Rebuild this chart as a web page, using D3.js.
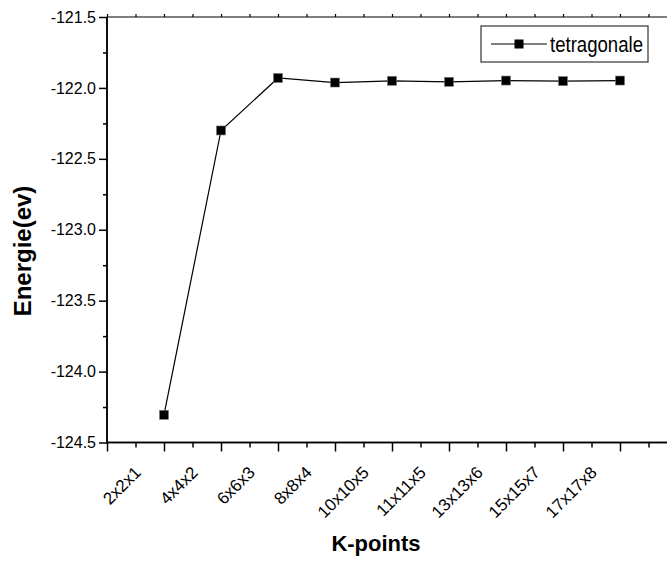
<!DOCTYPE html>
<html>
<head>
<meta charset="utf-8">
<script src="https://cdn.jsdelivr.net/npm/d3@7"></script>
<style>
  body { margin: 0; background: #fff; }
  text { font-family: "Liberation Sans", Arial, sans-serif; fill: #000; }
</style>
</head>
<body>
<div class="chart"></div>
<script>
// k-point grids and total energy (eV)
var kpoints = ["2x2x1", "4x4x2", "6x6x3", "8x8x4", "10x10x5", "11x11x5", "13x13x6", "15x15x7", "17x17x8"];
var energies = [-124.305, -122.30, -121.93, -121.962, -121.95, -121.957, -121.948, -121.952, -121.948];
var yTicks = [-124.5, -124.0, -123.5, -123.0, -122.5, -122.0, -121.5];
var seriesName = "tetragonale";

var board = { width: 667, height: 562, left: 107, top: 17, bottom: 442.5 };

var data = kpoints.map(function(k, i) { return { label: k, idx: i + 1, e: energies[i] }; });

var svg = d3.select(".chart").append("svg")
  .attr("width", board.width)
  .attr("height", board.height);

var x = d3.scaleLinear().domain([0, 10]).range([board.left, board.left + 570]);
var y = d3.scaleLinear().domain([-124.5, -121.5]).range([board.bottom, board.top]);

// bottom axis
var xMajor = d3.range(0, 11);
var xMinor = d3.range(0.5, 10, 1);
var bottomAxis = svg.append("g").attr("transform", "translate(0," + board.bottom + ")");
bottomAxis.call(d3.axisBottom(x).tickValues(xMajor).tickSize(9).tickFormat(""));
bottomAxis.append("g").call(d3.axisBottom(x).tickValues(xMinor).tickSize(5).tickFormat(""));
bottomAxis.selectAll("path, line").attr("stroke", "#000").attr("stroke-width", 1.5);
bottomAxis.selectAll(".domain").attr("d", "M" + board.left + ",0H" + board.width);

// rotated category labels
svg.selectAll(".xlab").data(data).enter().append("text")
  .attr("class", "xlab")
  .attr("font-size", 17)
  .attr("text-anchor", "end")
  .attr("transform", function(d) {
    return "translate(" + (x(d.idx) - 22) + "," + (board.bottom + 31) + ") rotate(-45)";
  })
  .text(function(d) { return d.label; });

// top axis
var topAxis = svg.append("g").attr("transform", "translate(0," + board.top + ")");
topAxis.call(d3.axisTop(x).tickValues(xMajor.concat(xMinor)).tickSize(3).tickFormat(""));
topAxis.selectAll("path, line").attr("stroke", "#000").attr("stroke-width", 1.2);
topAxis.selectAll(".domain").attr("d", "M" + board.left + ",0H" + board.width);

// left axis
var yMinor = d3.range(-124.25, -121.5, 0.5);
var leftAxis = svg.append("g").attr("transform", "translate(" + board.left + ",0)");
leftAxis.call(d3.axisLeft(y).tickValues(yTicks).tickSize(8).tickPadding(3)
  .tickFormat(function(d) { return d3.format(".1f")(d).replace("−", "-"); }));
leftAxis.selectAll("text").attr("font-size", 16).style("font-family", "Liberation Sans, Arial, sans-serif");
leftAxis.append("g").call(d3.axisLeft(y).tickValues(yMinor).tickSize(4).tickFormat(""));
leftAxis.selectAll("path, line").attr("stroke", "#000").attr("stroke-width", 1.5);
leftAxis.selectAll(".domain").attr("d", "M0," + board.top + "V" + board.bottom);

// series line and markers
var line = d3.line().x(function(d) { return x(d.idx); }).y(function(d) { return y(d.e); });
svg.append("path").datum(data)
  .attr("d", line)
  .attr("fill", "none")
  .attr("stroke", "#000")
  .attr("stroke-width", 1.2);

svg.selectAll(".pt").data(data).enter().append("rect")
  .attr("class", "pt")
  .attr("x", function(d) { return x(d.idx) - 4.5; })
  .attr("y", function(d) { return y(d.e) - 4.5; })
  .attr("width", 9).attr("height", 9)
  .attr("fill", "#000")
  .attr("stroke", "#777").attr("stroke-width", 0.6);

// axis titles
svg.append("text")
  .attr("x", 376).attr("y", 551)
  .attr("text-anchor", "middle")
  .attr("font-size", 22).attr("font-weight", "bold")
  .text("K-points");

svg.append("text")
  .attr("transform", "translate(31,251) rotate(-90)")
  .attr("text-anchor", "middle")
  .attr("font-size", 24).attr("font-weight", "bold")
  .text("Energie(ev)");

// legend
var legend = svg.append("g");
legend.append("rect")
  .attr("x", 481).attr("y", 26).attr("width", 167).attr("height", 36)
  .attr("fill", "#fff").attr("stroke", "#333").attr("stroke-width", 1.2);
legend.append("line")
  .attr("x1", 491).attr("x2", 547).attr("y1", 44).attr("y2", 44)
  .attr("stroke", "#000").attr("stroke-width", 1.2);
legend.append("rect")
  .attr("x", 514.5).attr("y", 39.5).attr("width", 9).attr("height", 9)
  .attr("fill", "#000");
legend.append("text")
  .attr("x", 550).attr("y", 52)
  .attr("font-size", 22)
  .attr("textLength", 93).attr("lengthAdjust", "spacingAndGlyphs")
  .text(seriesName);
</script>
</body>
</html>
